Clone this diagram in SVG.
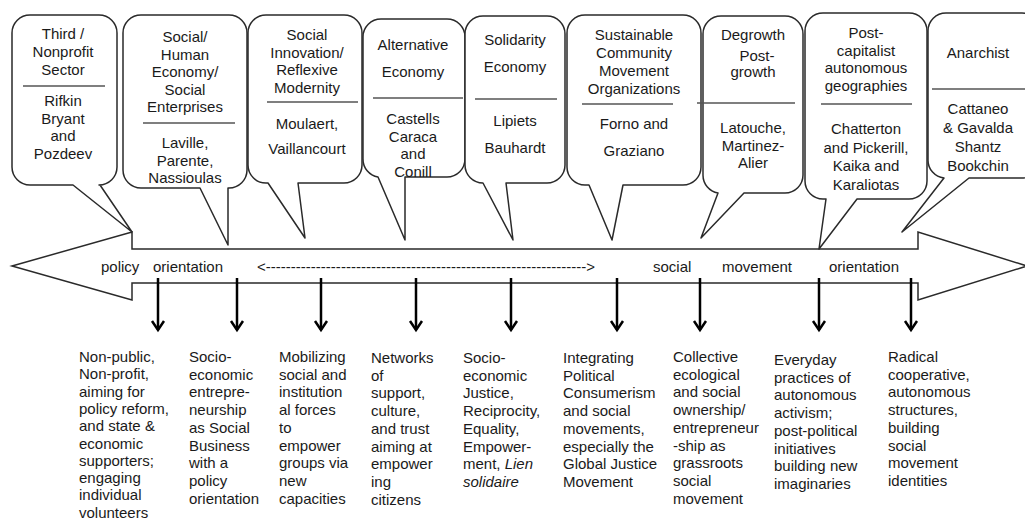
<svg xmlns="http://www.w3.org/2000/svg" width="1025" height="523" viewBox="0 0 1025 523">
<defs>
<style>
.t{font-family:"Liberation Sans",Arial,sans-serif;font-size:15px;fill:#1a1a1a}
.c{text-anchor:middle}
.co{fill:#fff;stroke:#2a2a2a;stroke-width:1.5;stroke-linejoin:round}
.dv{stroke:#555;stroke-width:1.5}
.dn{stroke:#000;stroke-width:2.5;fill:none}
.big{fill:#fff;stroke:#2a2a2a;stroke-width:1.5}
</style>
<marker id="ah" markerWidth="14" markerHeight="14" refX="9" refY="6" orient="auto" markerUnits="userSpaceOnUse" overflow="visible">
<path d="M0,0 L9,6 L0,12" fill="none" stroke="#000" stroke-width="2.5"/>
</marker>
</defs>
<rect width="1025" height="523" fill="#fff"/>

<g id="main-arrow">
<path class="big" d="M12,266 L132,232 V249 H918 V232 L1027,266 L918,300 V283 H132 V300 Z"/>
<text class="t" x="101" y="272">policy</text>
<text class="t" x="153" y="272">orientation</text>
<text class="t" x="257" y="272" textLength="338" lengthAdjust="spacing">&lt;----------------------------------------------------------------&gt;</text>
<text class="t" x="653" y="272">social</text>
<text class="t" x="722" y="272">movement</text>
<text class="t" x="829" y="272">orientation</text>
</g>

<g id="callout1">
<path class="co" d="M30,15 H99 A18,18 0 0 1 117,33 V167 A18,18 0 0 1 99,185 H100 L132,232 L73,185 H30 A18,18 0 0 1 12,167 V33 A18,18 0 0 1 30,15 Z"/>
<line class="dv" x1="23" y1="86" x2="105" y2="86"/>
<text class="t c" x="63" y="39"><tspan x="63">Third /</tspan><tspan x="63" dy="18">Nonprofit</tspan><tspan x="63" dy="17.5">Sector</tspan></text>
<text class="t c" x="63" y="106"><tspan x="63">Rifkin</tspan><tspan x="63" dy="17.5">Bryant</tspan><tspan x="63" dy="17.5">and</tspan><tspan x="63" dy="17.5">Pozdeev</tspan></text>
</g>

<g id="callout2">
<path class="co" d="M141,15 H229 A18,18 0 0 1 247,33 V170 A18,18 0 0 1 229,188 H228 V245 L200,188 H141 A18,18 0 0 1 123,170 V33 A18,18 0 0 1 141,15 Z"/>
<line class="dv" x1="143" y1="123" x2="235" y2="123"/>
<text class="t c" x="185" y="42"><tspan x="185">Social/</tspan><tspan x="185" dy="17.5">Human</tspan><tspan x="185" dy="17.5">Economy/</tspan><tspan x="185" dy="17.5">Social</tspan><tspan x="185" dy="17.5">Enterprises</tspan></text>
<text class="t c" x="185" y="148"><tspan x="185">Laville,</tspan><tspan x="185" dy="17.5">Parente,</tspan><tspan x="185" dy="17.5">Nassioulas</tspan></text>
</g>

<g id="callout3">
<path class="co" d="M266,15 H344 A18,18 0 0 1 362,33 V165 A18,18 0 0 1 344,183 H298 L305,238 L268,183 H266 A18,18 0 0 1 248,165 V33 A18,18 0 0 1 266,15 Z"/>
<line class="dv" x1="267" y1="102" x2="358" y2="102"/>
<text class="t c" x="307" y="40"><tspan x="307">Social</tspan><tspan x="307" dy="17.7">Innovation/</tspan><tspan x="307" dy="17.7">Reflexive</tspan><tspan x="307" dy="17.7">Modernity</tspan></text>
<text class="t c" x="307" y="129"><tspan x="307">Moulaert,</tspan><tspan x="307" dy="24.5">Vaillancourt</tspan></text>
</g>

<g id="callout4">
<path class="co" d="M381,19 H447 A18,18 0 0 1 465,37 V159 A18,18 0 0 1 447,177 H405 V240 L378,177 A18,18 0 0 1 363,159 V37 A18,18 0 0 1 381,19 Z"/>
<line class="dv" x1="373" y1="98" x2="463" y2="98"/>
<text class="t c" x="413" y="50"><tspan x="413">Alternative</tspan><tspan x="413" dy="27">Economy</tspan></text>
<text class="t c" x="413" y="124"><tspan x="413">Castells</tspan><tspan x="413" dy="17.7">Caraca</tspan><tspan x="413" dy="17.7">and</tspan><tspan x="413" dy="17.7">Conill</tspan></text>
</g>

<g id="callout5">
<path class="co" d="M483,16 H547 A18,18 0 0 1 565,34 V165 A18,18 0 0 1 547,183 H506 L513,240 L483,183 A18,18 0 0 1 465,165 V34 A18,18 0 0 1 483,16 Z"/>
<line class="dv" x1="475" y1="99" x2="557" y2="99"/>
<text class="t c" x="515" y="45"><tspan x="515">Solidarity</tspan><tspan x="515" dy="27">Economy</tspan></text>
<text class="t c" x="515" y="126"><tspan x="515">Lipiets</tspan><tspan x="515" dy="26.5">Bauhardt</tspan></text>
</g>

<g id="callout6">
<path class="co" d="M585,15 H683 A18,18 0 0 1 701,33 V167 A18,18 0 0 1 683,185 H623 L612,240 L589,185 H585 A18,18 0 0 1 567,167 V33 A18,18 0 0 1 585,15 Z"/>
<line class="dv" x1="582" y1="104" x2="673" y2="104"/>
<text class="t c" x="634" y="40"><tspan x="634">Sustainable</tspan><tspan x="634" dy="18">Community</tspan><tspan x="634" dy="18">Movement</tspan><tspan x="634" dy="18">Organizations</tspan></text>
<text class="t c" x="634" y="129"><tspan x="634">Forno and</tspan><tspan x="634" dy="27">Graziano</tspan></text>
</g>

<g id="callout7">
<path class="co" d="M721,16 H785 A18,18 0 0 1 803,34 V175 A18,18 0 0 1 785,193 H744 L701,238 L718,193 A18,18 0 0 1 703,175 V34 A18,18 0 0 1 721,16 Z"/>
<line class="dv" x1="697" y1="103" x2="795" y2="103"/>
<text class="t c" x="753" y="40">Degrowth</text>
<text class="t c" x="757" y="61">Post-</text>
<text class="t c" x="753" y="77">growth</text>
<text class="t c" x="753" y="133"><tspan x="753">Latouche,</tspan><tspan x="753" dy="17.7">Martinez-</tspan><tspan x="753" dy="17.7">Alier</tspan></text>
</g>

<g id="callout8">
<path class="co" d="M823,13 H909 A18,18 0 0 1 927,31 V181 A18,18 0 0 1 909,199 H857 L819,249 L826,199 H823 A18,18 0 0 1 805,181 V31 A18,18 0 0 1 823,13 Z"/>
<line class="dv" x1="821" y1="104" x2="912" y2="104"/>
<text class="t c" x="866" y="38"><tspan x="866">Post-</tspan><tspan x="866" dy="17.5">capitalist</tspan><tspan x="866" dy="17.5">autonomous</tspan><tspan x="866" dy="17.5">geographies</tspan></text>
<text class="t c" x="866" y="134"><tspan x="866">Chatterton</tspan><tspan x="866" dy="18.5">and Pickerill,</tspan><tspan x="866" dy="18.5">Kaika and</tspan><tspan x="866" dy="18.5">Karaliotas</tspan></text>
</g>

<g id="callout9">
<path class="co" d="M946,13 H1022 A18,18 0 0 1 1040,31 V160 A18,18 0 0 1 1022,178 H969 L902,232 L944,178 A18,18 0 0 1 928,160 V31 A18,18 0 0 1 946,13 Z"/>
<line class="dv" x1="932" y1="89" x2="1025" y2="89"/>
<text class="t c" x="978" y="58">Anarchist</text>
<text class="t c" x="978" y="114"><tspan x="978">Cattaneo</tspan><tspan x="978" dy="19">&amp; Gavalda</tspan><tspan x="978" dy="19">Shantz</tspan><tspan x="978" dy="19">Bookchin</tspan></text>
</g>

<g id="connectors">
<line class="dn" x1="158" y1="278" x2="158" y2="330" marker-end="url(#ah)"/>
<line class="dn" x1="237" y1="278" x2="237" y2="330" marker-end="url(#ah)"/>
<line class="dn" x1="321" y1="278" x2="321" y2="330" marker-end="url(#ah)"/>
<line class="dn" x1="416" y1="278" x2="416" y2="330" marker-end="url(#ah)"/>
<line class="dn" x1="511" y1="278" x2="511" y2="330" marker-end="url(#ah)"/>
<line class="dn" x1="617" y1="278" x2="617" y2="330" marker-end="url(#ah)"/>
<line class="dn" x1="700" y1="278" x2="700" y2="330" marker-end="url(#ah)"/>
<line class="dn" x1="819" y1="278" x2="819" y2="330" marker-end="url(#ah)"/>
<line class="dn" x1="911" y1="278" x2="911" y2="330" marker-end="url(#ah)"/>
</g>

<g id="desc1"><text class="t" x="79" y="362"><tspan x="79">Non-public,</tspan><tspan x="79" dy="17.3">Non-profit,</tspan><tspan x="79" dy="17.3">aiming for</tspan><tspan x="79" dy="17.3">policy reform,</tspan><tspan x="79" dy="17.3">and state &amp;</tspan><tspan x="79" dy="17.3">economic</tspan><tspan x="79" dy="17.3">supporters;</tspan><tspan x="79" dy="17.3">engaging</tspan><tspan x="79" dy="17.3">individual</tspan><tspan x="79" dy="17.3">volunteers</tspan></text></g>
<g id="desc2"><text class="t" x="189" y="362"><tspan x="189">Socio-</tspan><tspan x="189" dy="17.7">economic</tspan><tspan x="189" dy="17.7">entrepre-</tspan><tspan x="189" dy="17.7">neurship</tspan><tspan x="189" dy="17.7">as Social</tspan><tspan x="189" dy="17.7">Business</tspan><tspan x="189" dy="17.7">with a</tspan><tspan x="189" dy="17.7">policy</tspan><tspan x="189" dy="17.7">orientation</tspan></text></g>
<g id="desc3"><text class="t" x="279" y="362"><tspan x="279">Mobilizing</tspan><tspan x="279" dy="17.7">social and</tspan><tspan x="279" dy="17.7">institution</tspan><tspan x="279" dy="17.7">al forces</tspan><tspan x="279" dy="17.7">to</tspan><tspan x="279" dy="17.7">empower</tspan><tspan x="279" dy="17.7">groups via</tspan><tspan x="279" dy="17.7">new</tspan><tspan x="279" dy="17.7">capacities</tspan></text></g>
<g id="desc4"><text class="t" x="371" y="363"><tspan x="371">Networks</tspan><tspan x="371" dy="17.7">of</tspan><tspan x="371" dy="17.7">support,</tspan><tspan x="371" dy="17.7">culture,</tspan><tspan x="371" dy="17.7">and trust</tspan><tspan x="371" dy="17.7">aiming at</tspan><tspan x="371" dy="17.7">empower</tspan><tspan x="371" dy="17.7">ing</tspan><tspan x="371" dy="17.7">citizens</tspan></text></g>
<g id="desc5"><text class="t" x="463" y="363"><tspan x="463">Socio-</tspan><tspan x="463" dy="17.7">economic</tspan><tspan x="463" dy="17.7">Justice,</tspan><tspan x="463" dy="17.7">Reciprocity,</tspan><tspan x="463" dy="17.7">Equality,</tspan><tspan x="463" dy="17.7">Empower-</tspan><tspan x="463" dy="17.7">ment, <tspan font-style="italic">Lien</tspan></tspan><tspan x="463" dy="17.7" font-style="italic">solidaire</tspan></text></g>
<g id="desc6"><text class="t" x="563" y="363"><tspan x="563">Integrating</tspan><tspan x="563" dy="17.7">Political</tspan><tspan x="563" dy="17.7">Consumerism</tspan><tspan x="563" dy="17.7">and social</tspan><tspan x="563" dy="17.7">movements,</tspan><tspan x="563" dy="17.7">especially the</tspan><tspan x="563" dy="17.7">Global Justice</tspan><tspan x="563" dy="17.7">Movement</tspan></text></g>
<g id="desc7"><text class="t" x="673" y="362"><tspan x="673">Collective</tspan><tspan x="673" dy="17.7">ecological</tspan><tspan x="673" dy="17.7">and social</tspan><tspan x="673" dy="17.7">ownership/</tspan><tspan x="673" dy="17.7">entrepreneur</tspan><tspan x="673" dy="17.7">-ship as</tspan><tspan x="673" dy="17.7">grassroots</tspan><tspan x="673" dy="17.7">social</tspan><tspan x="673" dy="17.7">movement</tspan></text></g>
<g id="desc8"><text class="t" x="774" y="365"><tspan x="774">Everyday</tspan><tspan x="774" dy="17.7">practices of</tspan><tspan x="774" dy="17.7">autonomous</tspan><tspan x="774" dy="17.7">activism;</tspan><tspan x="774" dy="17.7">post-political</tspan><tspan x="774" dy="17.7">initiatives</tspan><tspan x="774" dy="17.7">building new</tspan><tspan x="774" dy="17.7">imaginaries</tspan></text></g>
<g id="desc9"><text class="t" x="888" y="362"><tspan x="888">Radical</tspan><tspan x="888" dy="17.7">cooperative,</tspan><tspan x="888" dy="17.7">autonomous</tspan><tspan x="888" dy="17.7">structures,</tspan><tspan x="888" dy="17.7">building</tspan><tspan x="888" dy="17.7">social</tspan><tspan x="888" dy="17.7">movement</tspan><tspan x="888" dy="17.7">identities</tspan></text></g>
</svg>
